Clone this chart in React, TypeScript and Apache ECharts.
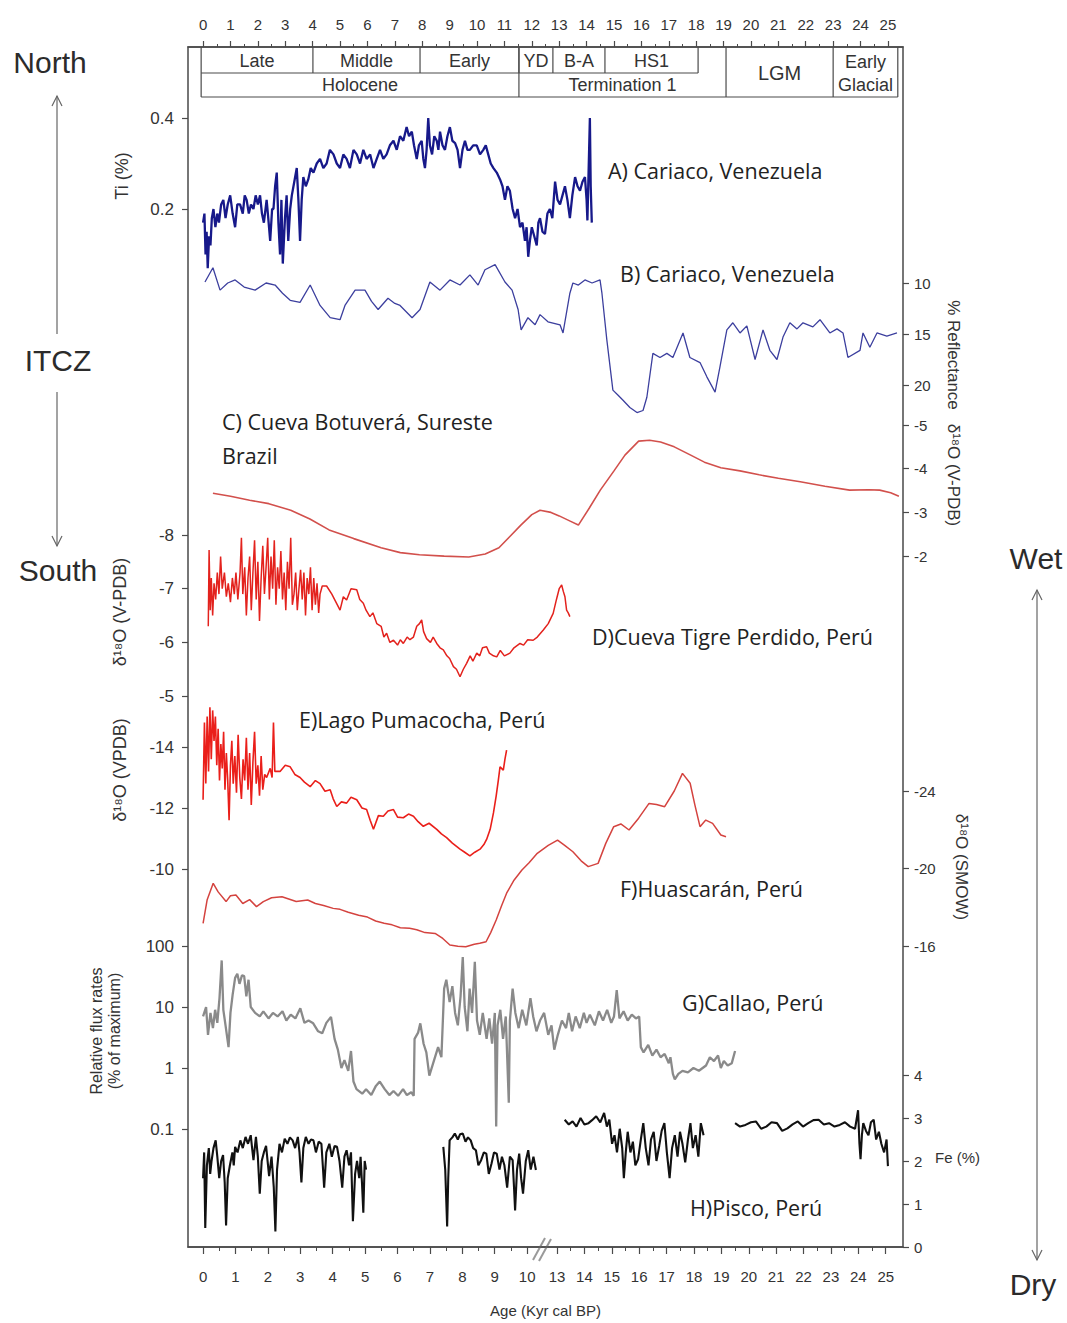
import React, { useEffect, useRef } from "react";
import * as echarts from "echarts";

type Pt = [number, number];

// ---------- axes / time scale ----------
const XMIN = -0.55;
const XMAX = 25.55;
const UPPER_TICKS = [0, 1, 2, 3, 4, 5, 6, 7, 8, 9, 10, 11, 12, 13, 14, 15, 16, 17, 18, 19, 20, 21, 22, 23, 24, 25];
const LOWER_TICKS = [0, 1, 2, 3, 4, 5, 6, 7, 8, 9, 10, 13, 14, 15, 16, 17, 18, 19, 20, 21, 22, 23, 24, 25];

// chronozones (kyr BP)
const ROW1_NAMES = ["Late", "Middle", "Early", "YD", "B-A", "HS1"];
const ROW1_EDGES = [-0.07, 4.01, 7.92, 11.53, 12.77, 14.67, 18.07];
const ROW2_NAMES = ["Holocene", "Termination 1"];
const ROW2_EDGES = [-0.07, 11.53, 19.09];
const GLACIAL_NAMES = ["LGM", "Early\nGlacial"];
const GLACIAL_EDGES = [19.09, 23.0, 25.36];

// ---------- records: [age kyr BP, value] ----------
// A) Cariaco Ti (%)
const cariacoTi: Pt[] = [
  [0.0, 0.17], [0.05, 0.19], [0.09, 0.1], [0.13, 0.15], [0.17, 0.07], [0.22, 0.14], [0.27, 0.12], [0.32, 0.18],
  [0.38, 0.2], [0.45, 0.16], [0.52, 0.19], [0.58, 0.17], [0.66, 0.21], [0.74, 0.22], [0.82, 0.18], [0.9, 0.21],
  [0.99, 0.23], [1.08, 0.19], [1.17, 0.16], [1.25, 0.21], [1.35, 0.21], [1.45, 0.19], [1.52, 0.23], [1.59, 0.22],
  [1.67, 0.19], [1.75, 0.21], [1.84, 0.2], [1.92, 0.23], [2.0, 0.21], [2.08, 0.23], [2.15, 0.19], [2.22, 0.17],
  [2.32, 0.22], [2.38, 0.18], [2.45, 0.13], [2.52, 0.2], [2.57, 0.2], [2.63, 0.25], [2.69, 0.28], [2.75, 0.17],
  [2.81, 0.1], [2.86, 0.22], [2.91, 0.08], [2.99, 0.18], [3.05, 0.23], [3.11, 0.13], [3.18, 0.2], [3.24, 0.23],
  [3.33, 0.26], [3.42, 0.29], [3.48, 0.22], [3.54, 0.13], [3.6, 0.22], [3.66, 0.27], [3.75, 0.25], [3.84, 0.265],
  [3.93, 0.29], [4.03, 0.28], [4.15, 0.3], [4.27, 0.31], [4.39, 0.29], [4.51, 0.3], [4.63, 0.33], [4.76, 0.32],
  [4.88, 0.3], [5.0, 0.29], [5.12, 0.32], [5.24, 0.31], [5.36, 0.29], [5.49, 0.33], [5.61, 0.32], [5.73, 0.3],
  [5.85, 0.33], [5.97, 0.31], [6.1, 0.32], [6.22, 0.29], [6.34, 0.31], [6.46, 0.33], [6.58, 0.31], [6.7, 0.32],
  [6.82, 0.34], [6.95, 0.35], [7.07, 0.33], [7.19, 0.36], [7.31, 0.35], [7.43, 0.38], [7.52, 0.36], [7.62, 0.37],
  [7.7, 0.34], [7.8, 0.31], [7.88, 0.34], [7.98, 0.35], [8.04, 0.31], [8.1, 0.29], [8.16, 0.33], [8.22, 0.4],
  [8.28, 0.34], [8.36, 0.32], [8.44, 0.36], [8.53, 0.35], [8.59, 0.33], [8.65, 0.37], [8.74, 0.34], [8.83, 0.33],
  [8.92, 0.36], [9.01, 0.38], [9.1, 0.35], [9.2, 0.345], [9.29, 0.33], [9.38, 0.29], [9.47, 0.33], [9.56, 0.35],
  [9.65, 0.33], [9.74, 0.33], [9.86, 0.34], [9.99, 0.34], [10.11, 0.32], [10.23, 0.33], [10.32, 0.34], [10.41, 0.32],
  [10.5, 0.3], [10.6, 0.29], [10.72, 0.28], [10.84, 0.265], [10.93, 0.25], [11.02, 0.22], [11.11, 0.25], [11.2, 0.24],
  [11.3, 0.2], [11.39, 0.18], [11.48, 0.2], [11.57, 0.16], [11.66, 0.17], [11.75, 0.13], [11.81, 0.16], [11.87, 0.095],
  [11.93, 0.13], [12.0, 0.16], [12.09, 0.14], [12.18, 0.12], [12.24, 0.17], [12.3, 0.18], [12.39, 0.15], [12.48, 0.145],
  [12.57, 0.19], [12.66, 0.2], [12.75, 0.18], [12.85, 0.26], [12.94, 0.22], [13.03, 0.21], [13.12, 0.23], [13.21, 0.25],
  [13.3, 0.22], [13.39, 0.18], [13.48, 0.23], [13.58, 0.27], [13.67, 0.25], [13.76, 0.24], [13.85, 0.26], [13.94, 0.27],
  [14.0, 0.22], [14.03, 0.175], [14.08, 0.3], [14.12, 0.4], [14.15, 0.25], [14.19, 0.17],
];

// B) Cariaco % reflectance
const cariacoReflectance: Pt[] = [
  [0.07, 9.9], [0.36, 8.5], [0.62, 10.7], [0.9, 10.0], [1.17, 9.7], [1.5, 10.4], [1.9, 10.7], [2.3, 10.0],
  [2.63, 10.2], [2.9, 11.0], [3.18, 11.7], [3.54, 11.9], [3.91, 10.2], [4.27, 12.2], [4.64, 13.4], [5.0, 13.6],
  [5.18, 12.2], [5.55, 10.7], [5.91, 10.7], [6.15, 11.8], [6.39, 12.6], [6.75, 11.5], [7.0, 12.0], [7.19, 12.2],
  [7.63, 13.4], [7.92, 12.6], [8.28, 9.9], [8.65, 10.7], [9.01, 9.7], [9.38, 10.2], [9.74, 9.2], [10.04, 10.2],
  [10.29, 8.7], [10.66, 8.2], [11.02, 9.9], [11.28, 10.7], [11.5, 12.6], [11.61, 14.6], [11.86, 13.4], [12.12, 14.1],
  [12.3, 13.1], [12.59, 13.8], [13.03, 14.1], [13.14, 14.9], [13.39, 11.0], [13.5, 10.0], [13.7, 10.2], [13.94, 9.7],
  [14.2, 10.0], [14.49, 9.7], [14.56, 11.0], [14.74, 15.6], [14.96, 20.5], [15.15, 21.0], [15.33, 21.5], [15.58, 22.2],
  [15.84, 22.7], [16.06, 22.5], [16.2, 21.2], [16.42, 16.9], [16.68, 17.3], [16.93, 16.9], [17.15, 17.3], [17.52, 14.9],
  [17.77, 17.3], [18.14, 17.8], [18.39, 19.2], [18.69, 20.7], [18.87, 18.2], [19.12, 14.6], [19.34, 13.9], [19.6, 14.9],
  [19.85, 14.2], [20.15, 17.5], [20.44, 14.6], [20.69, 16.6], [20.95, 17.5], [21.17, 15.3], [21.42, 13.9], [21.68, 14.5],
  [21.9, 13.9], [22.26, 14.3], [22.52, 13.6], [22.88, 14.9], [23.14, 14.5], [23.36, 14.9], [23.54, 17.3], [23.98, 16.6],
  [24.09, 14.9], [24.34, 16.3], [24.6, 14.9], [24.96, 15.2], [25.33, 14.9],
];

// C) Botuverá δ18O (V-PDB)
const botuveraD18O: Pt[] = [
  [0.36, -3.44], [1.0, -3.37], [1.7, -3.28], [2.4, -3.2], [3.2, -3.05], [3.9, -2.85], [4.6, -2.6], [5.5, -2.4],
  [6.5, -2.19], [7.2, -2.08], [7.9, -2.03], [8.8, -2.0], [9.7, -1.98], [10.3, -2.05], [10.8, -2.19], [11.2, -2.45],
  [11.6, -2.71], [12.0, -2.95], [12.3, -3.05], [12.7, -3.0], [13.0, -2.92], [13.4, -2.8], [13.7, -2.71], [14.1, -3.1],
  [14.5, -3.51], [15.0, -3.95], [15.4, -4.31], [15.9, -4.63], [16.3, -4.65], [16.7, -4.61], [17.2, -4.5], [17.8, -4.31],
  [18.3, -4.15], [18.9, -4.02], [19.6, -3.95], [20.3, -3.86], [21.0, -3.78], [21.8, -3.7], [22.7, -3.6], [23.6, -3.51],
  [24.3, -3.52], [24.7, -3.51], [25.1, -3.45], [25.4, -3.37],
];

// D) Tigre Perdido δ18O (V-PDB)
const tigrePerdidoD18O: Pt[] = [
  [0.19, -6.3], [0.22, -7.72], [0.26, -6.6], [0.3, -7.2], [0.35, -6.5], [0.4, -7.1], [0.46, -6.8], [0.52, -7.3],
  [0.58, -6.9], [0.64, -7.6], [0.7, -7.0], [0.78, -7.3], [0.85, -6.85], [0.92, -7.1], [1.0, -6.75], [1.07, -7.2],
  [1.14, -6.9], [1.2, -7.3], [1.27, -6.8], [1.35, -7.3], [1.4, -7.95], [1.45, -6.9], [1.52, -7.4], [1.58, -6.5],
  [1.64, -7.2], [1.7, -7.6], [1.76, -6.6], [1.82, -7.3], [1.88, -7.9], [1.94, -6.8], [2.0, -7.5], [2.06, -6.4],
  [2.12, -7.2], [2.18, -7.8], [2.24, -6.9], [2.3, -7.4], [2.36, -7.95], [2.42, -6.8], [2.48, -7.6], [2.54, -7.0],
  [2.6, -7.9], [2.66, -6.7], [2.72, -7.4], [2.78, -7.0], [2.84, -7.7], [2.9, -6.8], [2.96, -7.3], [3.02, -6.6],
  [3.08, -7.5], [3.14, -7.0], [3.2, -7.95], [3.26, -6.7], [3.32, -6.9], [3.38, -7.3], [3.44, -6.6], [3.5, -7.0],
  [3.56, -7.35], [3.62, -6.8], [3.68, -7.3], [3.74, -6.5], [3.8, -7.2], [3.86, -6.9], [3.92, -7.4], [3.98, -6.6],
  [4.04, -7.2], [4.1, -6.7], [4.16, -7.1], [4.22, -6.55], [4.27, -6.9], [4.35, -7.05], [4.51, -7.05], [4.7, -6.9],
  [5.0, -6.6], [5.12, -6.85], [5.24, -6.79], [5.4, -7.0], [5.61, -6.98], [5.72, -6.8], [5.85, -6.73], [5.95, -6.6],
  [6.09, -6.48], [6.2, -6.55], [6.34, -6.35], [6.5, -6.3], [6.6, -6.1], [6.7, -6.17], [6.82, -6.0], [6.95, -6.04],
  [7.1, -5.95], [7.2, -6.05], [7.31, -5.98], [7.45, -6.1], [7.55, -6.05], [7.68, -6.1], [7.8, -6.3], [7.9, -6.35],
  [7.98, -6.42], [8.05, -6.2], [8.16, -6.07], [8.3, -6.0], [8.4, -6.1], [8.53, -5.98], [8.65, -5.9], [8.77, -5.86],
  [8.9, -5.75], [9.0, -5.7], [9.14, -5.55], [9.25, -5.5], [9.38, -5.36], [9.5, -5.5], [9.62, -5.61], [9.75, -5.75],
  [9.85, -5.65], [9.99, -5.8], [10.1, -5.75], [10.2, -5.9], [10.35, -5.92], [10.45, -5.8], [10.6, -5.75], [10.72, -5.73],
  [10.85, -5.85], [11.0, -5.75], [11.2, -5.8], [11.35, -5.9], [11.57, -5.98], [11.7, -5.95], [11.85, -6.05], [12.05, -6.04],
  [12.2, -6.1], [12.42, -6.23], [12.6, -6.35], [12.78, -6.54], [12.9, -6.8], [13.0, -7.0], [13.09, -7.07], [13.15, -6.95],
  [13.21, -6.85], [13.27, -6.6], [13.33, -6.55], [13.39, -6.48],
];

// E) Pumacocha δ18O (VPDB)
const pumacochaD18O: Pt[] = [
  [0.0, -12.27], [0.05, -14.8], [0.1, -12.8], [0.15, -15.0], [0.2, -13.2], [0.25, -15.3], [0.3, -13.6], [0.35, -15.2],
  [0.4, -14.2], [0.45, -15.0], [0.5, -13.4], [0.55, -14.6], [0.6, -12.9], [0.65, -14.1], [0.7, -13.3], [0.75, -14.5],
  [0.8, -12.6], [0.85, -13.8], [0.9, -12.9], [0.95, -11.6], [1.0, -13.4], [1.05, -14.2], [1.1, -12.8], [1.16, -13.7],
  [1.22, -12.5], [1.28, -14.4], [1.34, -13.0], [1.4, -12.3], [1.46, -13.6], [1.52, -12.9], [1.58, -14.3], [1.64, -12.6],
  [1.7, -13.8], [1.76, -12.1], [1.82, -13.5], [1.88, -14.5], [1.94, -12.8], [2.0, -13.4], [2.06, -12.4], [2.12, -13.7],
  [2.18, -12.6], [2.25, -13.1], [2.32, -13.0], [2.45, -13.3], [2.52, -13.0], [2.57, -14.8], [2.62, -13.2], [2.81, -13.2],
  [3.0, -13.4], [3.18, -13.35], [3.35, -13.1], [3.54, -13.0], [3.7, -12.85], [3.91, -12.7], [4.1, -12.9], [4.27, -12.8],
  [4.45, -12.55], [4.64, -12.6], [4.75, -12.3], [4.88, -12.05], [5.05, -12.2], [5.24, -12.16], [5.4, -12.35], [5.61, -12.27],
  [5.8, -12.0], [5.97, -11.95], [6.1, -11.6], [6.22, -11.3], [6.4, -11.75], [6.58, -11.73], [6.75, -11.9], [6.95, -11.95],
  [7.1, -11.7], [7.31, -11.68], [7.5, -11.8], [7.68, -11.73], [7.85, -11.55], [8.04, -11.4], [8.25, -11.5], [8.53, -11.3],
  [8.7, -11.15], [8.89, -11.03], [9.1, -10.85], [9.38, -10.65], [9.55, -10.55], [9.74, -10.43], [9.92, -10.55], [10.11, -10.65],
  [10.25, -10.8], [10.35, -10.97], [10.48, -11.3], [10.6, -11.84], [10.7, -12.4], [10.78, -12.92], [10.84, -13.35], [10.96, -13.24],
  [11.02, -13.6], [11.08, -13.9],
];

// F) Huascarán δ18O (SMOW)
const huascaranD18O: Pt[] = [
  [0.0, -17.18], [0.15, -18.4], [0.37, -19.24], [0.55, -18.8], [0.84, -18.3], [1.0, -18.6], [1.2, -18.64], [1.45, -18.2],
  [1.7, -18.4], [1.95, -18.04], [2.2, -18.3], [2.5, -18.5], [2.88, -18.55], [3.1, -18.45], [3.4, -18.3], [3.82, -18.38],
  [4.1, -18.2], [4.4, -18.1], [4.75, -17.95], [5.0, -17.9], [5.3, -17.75], [5.68, -17.6], [6.0, -17.5], [6.3, -17.3],
  [6.61, -17.18], [6.9, -17.1], [7.2, -16.95], [7.54, -16.92], [7.8, -16.85], [8.1, -16.7], [8.47, -16.66], [8.75, -16.4],
  [9.01, -16.06], [9.3, -16.0], [9.59, -15.97], [9.9, -16.1], [10.1, -16.15], [10.33, -16.23], [10.5, -16.7], [10.7, -17.35],
  [10.9, -18.1], [11.08, -18.73], [11.35, -19.4], [11.64, -19.93], [11.9, -20.3], [12.2, -20.79], [12.6, -21.2], [12.94, -21.47],
  [13.2, -21.2], [13.5, -20.87], [13.8, -20.4], [14.06, -20.1], [14.42, -20.27], [14.7, -21.3], [14.99, -22.16], [15.25, -22.3],
  [15.55, -21.99], [15.9, -22.6], [16.28, -23.36], [16.55, -23.3], [16.85, -23.19], [17.2, -24.0], [17.5, -24.91], [17.78, -24.4],
  [17.95, -23.3], [18.14, -22.16], [18.35, -22.5], [18.6, -22.33], [18.9, -21.73], [19.09, -21.64],
];

// G) Callao relative flux rates (% of maximum)
const callaoFlux: Pt[] = [
  [0.0, 7.0], [0.11, 10.0], [0.18, 3.5], [0.27, 8.0], [0.36, 4.5], [0.44, 9.0], [0.52, 5.5], [0.6, 14.0],
  [0.68, 58], [0.74, 9.0], [0.82, 5.0], [0.93, 2.2], [1.0, 8.0], [1.08, 16.0], [1.17, 30], [1.25, 35],
  [1.33, 24], [1.42, 33], [1.5, 32], [1.58, 15], [1.66, 28], [1.74, 10.0], [1.9, 8.0], [2.07, 7.0],
  [2.2, 8.5], [2.39, 6.5], [2.55, 8.0], [2.72, 7.0], [2.9, 8.5], [3.04, 6.0], [3.2, 7.5], [3.37, 6.5],
  [3.55, 9.5], [3.7, 5.5], [3.85, 6.0], [4.02, 5.4], [4.2, 4.0], [4.35, 3.7], [4.5, 5.5], [4.67, 6.9],
  [4.8, 3.0], [4.92, 2.0], [5.05, 1.0], [5.16, 1.35], [5.3, 0.9], [5.4, 1.9], [5.49, 0.6], [5.6, 0.45],
  [5.81, 0.38], [5.95, 0.45], [6.14, 0.36], [6.3, 0.5], [6.45, 0.6], [6.63, 0.45], [6.8, 0.36], [6.95, 0.42],
  [7.12, 0.35], [7.3, 0.45], [7.44, 0.36], [7.6, 0.4], [7.69, 0.35], [7.72, 3.0], [7.85, 3.8], [7.93, 5.4],
  [8.05, 2.5], [8.15, 1.8], [8.26, 0.75], [8.4, 1.2], [8.58, 2.2], [8.7, 1.5], [8.8, 20], [8.88, 28],
  [9.0, 12], [9.1, 22], [9.2, 8], [9.3, 5], [9.4, 15], [9.48, 66], [9.55, 10], [9.65, 4],
  [9.73, 20], [9.82, 8], [9.92, 55], [10.0, 6], [10.1, 3.5], [10.21, 8], [10.35, 3.0], [10.45, 6.5],
  [10.55, 2.5], [10.65, 8], [10.7, 0.11], [10.75, 5.0], [10.85, 9], [10.95, 3.0], [11.05, 7], [11.16, 0.27],
  [11.2, 6], [11.3, 20], [11.4, 8], [11.52, 4.5], [11.65, 9], [11.8, 5], [11.95, 14], [12.05, 7],
  [12.17, 4], [12.3, 6], [12.45, 8], [12.6, 3.5], [12.72, 5], [12.82, 2.0], [12.95, 3.5], [13.1, 6],
  [13.25, 4.5], [13.35, 8], [13.47, 4], [13.6, 7], [13.75, 4.5], [13.9, 8], [14.0, 5.5], [14.12, 7.5],
  [14.3, 5], [14.45, 8.5], [14.6, 6], [14.75, 9], [14.9, 5.5], [15.0, 7], [15.1, 19], [15.2, 6.5],
  [15.35, 8.5], [15.5, 6], [15.65, 7.5], [15.8, 6.5], [15.92, 7], [15.98, 2.2], [16.08, 1.8], [16.25, 2.4],
  [16.4, 1.6], [16.55, 2.0], [16.7, 1.5], [16.85, 1.7], [17.0, 1.2], [17.06, 1.5], [17.15, 0.8], [17.22, 0.65],
  [17.35, 0.8], [17.5, 0.9], [17.7, 0.85], [17.9, 1.0], [18.1, 0.9], [18.36, 1.1], [18.5, 1.5], [18.65, 1.3],
  [18.8, 1.6], [18.9, 1.0], [19.01, 1.3], [19.15, 1.1], [19.3, 1.2], [19.42, 1.9],
];

// H) Pisco Fe (%), four core sections
const piscoFe1: Pt[] = [
  [0.0, 1.6], [0.04, 2.2], [0.08, 0.44], [0.14, 1.9], [0.21, 2.3], [0.26, 1.7], [0.31, 2.0], [0.38, 2.3],
  [0.46, 2.48], [0.52, 2.1], [0.59, 1.6], [0.66, 2.0], [0.73, 2.14], [0.79, 1.5], [0.84, 0.5], [0.9, 1.6],
  [0.98, 1.9], [1.07, 2.2], [1.12, 1.9], [1.17, 2.33], [1.26, 2.2], [1.36, 2.48], [1.45, 2.3], [1.55, 2.56],
  [1.64, 2.4], [1.74, 2.6], [1.79, 2.3], [1.84, 2.02], [1.93, 2.56], [2.0, 2.1], [2.07, 1.24], [2.14, 2.0],
  [2.22, 2.2], [2.3, 2.35], [2.41, 1.65], [2.5, 2.1], [2.58, 1.4], [2.64, 0.36], [2.7, 1.8], [2.79, 2.4],
  [2.88, 2.2], [2.98, 2.52], [3.08, 2.4], [3.17, 2.55], [3.27, 2.48], [3.36, 2.3], [3.46, 2.56], [3.52, 2.2],
  [3.59, 1.5], [3.66, 2.3], [3.75, 2.56], [3.85, 2.4], [3.94, 2.5], [4.03, 2.48], [4.12, 2.2], [4.22, 2.45],
  [4.32, 2.4], [4.37, 1.9], [4.42, 1.38], [4.5, 2.2], [4.61, 2.4], [4.7, 2.1], [4.8, 2.35], [4.89, 2.33],
  [4.98, 2.0], [5.08, 1.38], [5.16, 2.1], [5.24, 2.25], [5.33, 1.9], [5.4, 2.2], [5.47, 0.6], [5.55, 1.7],
  [5.62, 2.0], [5.7, 1.6], [5.75, 2.1], [5.8, 1.5], [5.85, 0.8], [5.9, 2.0], [5.95, 1.8],
];
const piscoFe2: Pt[] = [
  [8.77, 2.33], [8.84, 1.8], [8.91, 0.48], [8.95, 1.6], [9.0, 2.48], [9.1, 2.55], [9.19, 2.64], [9.3, 2.5],
  [9.38, 2.62], [9.48, 2.64], [9.58, 2.45], [9.67, 2.55], [9.77, 2.48], [9.86, 2.3], [9.96, 2.25], [10.05, 1.9],
  [10.15, 2.02], [10.25, 2.2], [10.34, 2.17], [10.43, 1.7], [10.53, 1.94], [10.62, 2.2], [10.72, 2.17], [10.82, 1.8],
  [10.91, 2.1], [11.0, 1.9], [11.1, 1.38], [11.2, 2.1], [11.3, 2.02], [11.35, 1.4], [11.39, 0.85], [11.46, 1.8],
  [11.54, 2.17], [11.61, 1.6], [11.68, 1.24], [11.78, 2.0], [11.87, 2.25], [11.96, 1.8], [12.06, 2.1], [12.15, 1.79],
];
const piscoFe3: Pt[] = [
  [13.2, 2.96], [13.35, 2.85], [13.49, 2.92], [13.63, 2.8], [13.78, 3.0], [13.92, 2.85], [14.07, 2.88], [14.2, 2.95],
  [14.35, 3.04], [14.5, 2.9], [14.64, 3.12], [14.74, 2.8], [14.83, 2.96], [14.93, 2.4], [15.02, 2.6], [15.11, 2.2],
  [15.21, 2.75], [15.3, 2.3], [15.36, 1.6], [15.43, 2.2], [15.5, 2.68], [15.6, 2.2], [15.69, 2.45], [15.78, 1.9],
  [15.88, 2.04], [15.98, 2.5], [16.07, 2.88], [16.16, 2.3], [16.26, 1.9], [16.35, 2.5], [16.45, 2.68], [16.55, 2.0],
  [16.65, 2.35], [16.74, 2.7], [16.84, 2.88], [16.93, 2.2], [17.03, 1.6], [17.12, 2.3], [17.22, 2.6], [17.32, 2.1],
  [17.41, 2.68], [17.5, 2.4], [17.6, 1.97], [17.7, 2.5], [17.79, 2.88], [17.88, 2.3], [17.98, 2.6], [18.08, 2.1],
  [18.17, 2.88], [18.27, 2.6],
];
const piscoFe4: Pt[] = [
  [19.42, 2.88], [19.6, 2.8], [19.8, 2.84], [20.0, 2.9], [20.18, 2.92], [20.37, 2.75], [20.56, 2.8], [20.75, 2.9],
  [20.95, 2.88], [21.14, 2.7], [21.33, 2.76], [21.52, 2.85], [21.71, 2.92], [21.9, 2.8], [22.09, 2.88], [22.28, 2.95],
  [22.47, 2.96], [22.66, 2.85], [22.85, 2.88], [23.05, 2.8], [23.24, 2.84], [23.43, 2.9], [23.62, 2.8], [23.8, 2.75],
  [23.91, 3.18], [23.96, 2.4], [24.0, 2.04], [24.05, 2.6], [24.1, 2.88], [24.2, 2.7], [24.29, 2.6], [24.38, 2.9],
  [24.48, 2.96], [24.57, 2.5], [24.67, 2.68], [24.76, 2.4], [24.86, 2.2], [24.95, 2.5], [25.0, 1.88],
];

// y-axis ticks per record
const TI_TICKS = [0.2, 0.4];
const REFLECTANCE_TICKS = [10, 15, 20];
const BOTUVERA_TICKS = [-5, -4, -3, -2];
const TIGRE_TICKS = [-8, -7, -6, -5];
const PUMACOCHA_TICKS = [-14, -12, -10];
const HUASCARAN_TICKS = [-24, -20, -16];
const FE_TICKS = [0, 1, 2, 3, 4];

// ---------- styling ----------
const AXIS_COLOR = "#4a4a4a";
const SANS = '"Liberation Sans", Arial, Helvetica, sans-serif';
const LABEL_FONT = '"Open Sans", "Noto Sans", sans-serif';

// lower age scale is broken between 10 and 13 kyr; its 0–10 part is stretched
const lowerPos = (age: number) => (age <= 10 ? age * 1.183 : age - 0.08);

const halfSteps = (ticks: number[]) => {
  const out: number[] = [];
  for (let i = 0; i < ticks.length - 1; i++) {
    if (ticks[i + 1] - ticks[i] === 1) out.push(ticks[i] + 0.5);
  }
  return out;
};

function panelX(gridIndex: number) {
  return { type: "value", gridIndex, min: XMIN, max: XMAX, show: false };
}

function panelY(gridIndex: number, position: string, min: number, max: number, ticks: number[], inverse: boolean) {
  const isLeft = position === "left";
  return {
    type: "value",
    gridIndex,
    position,
    min,
    max,
    inverse,
    axisLine: { show: false, onZero: false },
    splitLine: { show: false },
    axisTick: { show: true, inside: false, customValues: ticks, length: 6, lineStyle: { color: AXIS_COLOR, width: 1.2 } },
    axisLabel: {
      show: true,
      inside: false,
      customValues: ticks,
      color: "#333",
      fontSize: isLeft ? 17 : 15,
      fontFamily: SANS,
      margin: isLeft ? 14 : 11,
    },
  };
}

function lineSeries(name: string, data: Pt[], axis: number, color: string, width: number) {
  return {
    name,
    type: "line",
    xAxisIndex: axis + 4,
    yAxisIndex: axis + 1,
    data,
    showSymbol: false,
    symbol: "none",
    lineStyle: { color, width },
    silent: true,
  };
}

function buildOption(): any {
  const upperMinor = halfSteps(UPPER_TICKS);
  const lowerMajor = LOWER_TICKS.map(lowerPos);
  const lowerMinor = halfSteps(LOWER_TICKS).map(lowerPos);
  const frameAxis = { type: "value", gridIndex: 0, min: XMIN, max: XMAX, splitLine: { show: false } };
  const lowerLabel = (v: number) => {
    const hit = LOWER_TICKS.find((a) => Math.abs(lowerPos(a) - v) < 1e-6);
    return hit === undefined ? "" : String(hit);
  };

  return {
    animation: false,
    backgroundColor: "#ffffff",
    grid: [
      { left: 188, right: 164, top: 47, bottom: 76, show: true, borderColor: AXIS_COLOR, borderWidth: 1.5, backgroundColor: "transparent" },
      { left: 188, right: 164, top: 95.25, height: 182 }, // A
      { left: 188, right: 164, top: 252.4, height: 183.6 }, // B
      { left: 188, right: 164, top: 403.15, height: 174.8 }, // C
      { left: 188, right: 164, top: 508.15, height: 198.7 }, // D
      { left: 188, right: 164, top: 701.25, height: 183 }, // E
      { left: 188, right: 164, top: 761.9, height: 194 }, // F
      { left: 188, right: 164, top: 946, height: 183 }, // G
      { left: 188, right: 164, top: 1053.5, height: 193.5 }, // H
    ],
    xAxis: [
      {
        ...frameAxis,
        position: "top",
        axisLine: { show: true, onZero: false, lineStyle: { color: AXIS_COLOR, width: 1.5 } },
        axisTick: { show: true, customValues: UPPER_TICKS, length: 6, lineStyle: { color: AXIS_COLOR, width: 1.2 } },
        axisLabel: { show: true, customValues: UPPER_TICKS, color: "#333", fontSize: 15, fontFamily: SANS, margin: 15 },
      },
      {
        ...frameAxis,
        position: "top",
        axisLine: { show: false, onZero: false },
        axisTick: { show: true, customValues: upperMinor, length: 3, lineStyle: { color: AXIS_COLOR, width: 1 } },
        axisLabel: { show: false },
      },
      {
        ...frameAxis,
        position: "bottom",
        axisLine: { show: true, onZero: false, lineStyle: { color: AXIS_COLOR, width: 1.5 } },
        axisTick: { show: true, customValues: lowerMajor, length: 7, lineStyle: { color: AXIS_COLOR, width: 1.2 } },
        axisLabel: {
          show: true,
          customValues: lowerMajor,
          color: "#333",
          fontSize: 15,
          fontFamily: SANS,
          margin: 22,
          formatter: lowerLabel,
        },
        name: "Age (Kyr cal BP)",
        nameLocation: "middle",
        nameGap: 56,
        nameTextStyle: { color: "#333", fontSize: 15, fontFamily: SANS },
      },
      {
        ...frameAxis,
        position: "bottom",
        axisLine: { show: false, onZero: false },
        axisTick: { show: true, customValues: lowerMinor, length: 4, lineStyle: { color: AXIS_COLOR, width: 1 } },
        axisLabel: { show: false },
      },
      panelX(1), panelX(2), panelX(3), panelX(4), panelX(5), panelX(6), panelX(7), panelX(8),
    ],
    yAxis: [
      { type: "value", gridIndex: 0, show: false, min: 0, max: 1 },
      panelY(1, "left", 0.05, 0.45, TI_TICKS, false),
      panelY(2, "right", 7, 25, REFLECTANCE_TICKS, true),
      panelY(3, "right", -5.5, -1.5, BOTUVERA_TICKS, true),
      panelY(4, "left", -8.5, -4.8, TIGRE_TICKS, true),
      panelY(5, "left", -15.5, -9.5, PUMACOCHA_TICKS, true),
      panelY(6, "right", -25.5, -15.5, HUASCARAN_TICKS, true),
      {
        type: "log",
        logBase: 10,
        gridIndex: 7,
        position: "left",
        min: 0.1,
        max: 100,
        axisLine: { show: false, onZero: false },
        splitLine: { show: false },
        minorTick: { show: false },
        axisTick: { show: true, inside: false, length: 6, lineStyle: { color: AXIS_COLOR, width: 1.2 } },
        axisLabel: { show: true, color: "#333", fontSize: 17, fontFamily: SANS, margin: 14 },
      },
      panelY(8, "right", 0, 4.5, FE_TICKS, false),
    ],
    series: [
      lineSeries("A) Cariaco Ti", cariacoTi, 0, "#17198a", 2.3),
      lineSeries("B) Cariaco reflectance", cariacoReflectance, 1, "#3c3f9e", 1.3),
      lineSeries("C) Botuverá", botuveraD18O, 2, "#d2504c", 1.6),
      lineSeries("D) Tigre Perdido", tigrePerdidoD18O, 3, "#e3221d", 1.5),
      lineSeries("E) Pumacocha", pumacochaD18O, 4, "#ea1f1a", 1.6),
      lineSeries("F) Huascarán", huascaranD18O, 5, "#d4433f", 1.5),
      lineSeries("G) Callao", callaoFlux, 6, "#8a8a8a", 2.3),
      lineSeries("H) Pisco 1", piscoFe1, 7, "#111111", 2.1),
      lineSeries("H) Pisco 2", piscoFe2, 7, "#111111", 2.1),
      lineSeries("H) Pisco 3", piscoFe3, 7, "#111111", 2.1),
      lineSeries("H) Pisco 4", piscoFe4, 7, "#111111", 2.1),
    ],
  };
}

function buildGraphic(chart: any): any[] {
  const px = (age: number) => chart.convertToPixel({ xAxisIndex: 0 }, age) as number;
  const els: any[] = [];
  const Y0 = 47;
  const Y1 = 73;
  const Y2 = 97;

  const seg = (x1: number, y1: number, x2: number, y2: number, stroke = AXIS_COLOR, lineWidth = 1.2) => ({
    type: "line",
    silent: true,
    shape: { x1, y1, x2, y2 },
    style: { stroke, lineWidth },
  });
  const txt = (x: number, y: number, text: string, font: string, opts: any = {}) => ({
    type: "text",
    silent: true,
    x,
    y,
    rotation: opts.rotation || 0,
    style: {
      text,
      x: 0,
      y: 0,
      font,
      fill: opts.fill || "#333",
      textAlign: opts.align || "center",
      textVerticalAlign: "middle",
      lineHeight: opts.lineHeight,
    },
  });

  // chronozone header
  const left = px(ROW2_EDGES[0]);
  const right = px(GLACIAL_EDGES[GLACIAL_EDGES.length - 1]);
  els.push(seg(left, Y2, right, Y2));
  els.push(seg(left, Y1, px(ROW1_EDGES[ROW1_EDGES.length - 1]), Y1));
  [ROW2_EDGES[0], ROW2_EDGES[1], ROW2_EDGES[2], GLACIAL_EDGES[1], GLACIAL_EDGES[2]].forEach((a) =>
    els.push(seg(px(a), Y0, px(a), Y2))
  );
  ROW1_EDGES.slice(1).forEach((a) => els.push(seg(px(a), Y0, px(a), Y1)));
  const hdrFont = `18px ${SANS}`;
  ROW1_NAMES.forEach((n, i) => els.push(txt((px(ROW1_EDGES[i]) + px(ROW1_EDGES[i + 1])) / 2, 61, n, hdrFont)));
  ROW2_NAMES.forEach((n, i) => els.push(txt((px(ROW2_EDGES[i]) + px(ROW2_EDGES[i + 1])) / 2, 85, n, hdrFont)));
  GLACIAL_NAMES.forEach((n, i) =>
    els.push(
      txt((px(GLACIAL_EDGES[i]) + px(GLACIAL_EDGES[i + 1])) / 2, 73, n, i === 0 ? `20px ${SANS}` : hdrFont, {
        lineHeight: 23,
      })
    )
  );

  // record names
  const recFont = `21.5px ${LABEL_FONT}`;
  const recs: [number, number, string][] = [
    [608, 170, "A) Cariaco, Venezuela"],
    [620, 273, "B) Cariaco, Venezuela"],
    [222, 421, "C) Cueva Botuverá, Sureste"],
    [222, 455, "Brazil"],
    [592, 636, "D)Cueva Tigre Perdido, Perú"],
    [299, 719, "E)Lago Pumacocha, Perú"],
    [620, 888, "F)Huascarán, Perú"],
    [682, 1002, "G)Callao, Perú"],
    [690, 1207, "H)Pisco, Perú"],
  ];
  recs.forEach(([x, y, t]) => els.push(txt(x, y, t, recFont, { align: "left", fill: "#222" })));

  // axis names
  const leftName = `18px ${SANS}`;
  const rightName = `17px ${SANS}`;
  const up = Math.PI / 2;
  const down = -Math.PI / 2;
  els.push(txt(122, 176, "Ti (%)", leftName, { rotation: up }));
  els.push(txt(120, 612, "δ¹⁸O (V-PDB)", leftName, { rotation: up }));
  els.push(txt(120, 770, "δ¹⁸O (VPDB)", leftName, { rotation: up }));
  els.push(txt(96, 1031, "Relative flux rates", `16px ${SANS}`, { rotation: up }));
  els.push(txt(114, 1031, "(% of maximum)", `16px ${SANS}`, { rotation: up }));
  els.push(txt(953, 355, "% Reflectance", rightName, { rotation: down }));
  els.push(txt(953, 475, "δ¹⁸O (V-PDB)", rightName, { rotation: down }));
  els.push(txt(961, 867, "δ¹⁸O (SMOW)", rightName, { rotation: down }));
  els.push(txt(935, 1157, "Fe (%)", `15px ${SANS}`, { align: "left" }));

  // ITCZ position and humidity guides
  const bigFont = `30px ${SANS}`;
  els.push(txt(50, 62, "North", bigFont, { fill: "#2b2b2b" }));
  els.push(txt(58, 360, "ITCZ", bigFont, { fill: "#2b2b2b" }));
  els.push(txt(58, 570, "South", bigFont, { fill: "#2b2b2b" }));
  els.push(txt(1036, 558, "Wet", bigFont, { fill: "#2b2b2b" }));
  els.push(txt(1033, 1284, "Dry", bigFont, { fill: "#2b2b2b" }));
  const guide = "#666";
  els.push(seg(57, 96, 57, 334, guide, 1.2));
  els.push({ type: "polyline", silent: true, shape: { points: [[52, 106], [57, 96], [62, 106]] }, style: { stroke: guide, lineWidth: 1.2, fill: null } });
  els.push(seg(57, 392, 57, 546, guide, 1.2));
  els.push({ type: "polyline", silent: true, shape: { points: [[52, 536], [57, 546], [62, 536]] }, style: { stroke: guide, lineWidth: 1.2, fill: null } });
  els.push(seg(1037, 590, 1037, 1260, guide, 1.2));
  els.push({ type: "polyline", silent: true, shape: { points: [[1032, 600], [1037, 590], [1042, 600]] }, style: { stroke: guide, lineWidth: 1.2, fill: null } });
  els.push({ type: "polyline", silent: true, shape: { points: [[1032, 1250], [1037, 1260], [1042, 1250]] }, style: { stroke: guide, lineWidth: 1.2, fill: null } });

  // break marks on the lower age axis
  els.push(seg(533, 1260, 545, 1238, "#9a9a9a", 2));
  els.push(seg(539, 1261, 551, 1239, "#9a9a9a", 2));

  return els;
}

export default function App() {
  const ref = useRef<HTMLDivElement>(null);
  useEffect(() => {
    const el = ref.current;
    if (!el) return;
    const chart = echarts.init(el, null, { renderer: "svg" });
    chart.setOption(buildOption());
    chart.setOption({ graphic: buildGraphic(chart) });
    return () => chart.dispose();
  }, []);
  return (
    <div
      ref={ref}
      style={{ position: "absolute", left: 0, top: 0, width: 1067, height: 1323, background: "#fff" }}
    />
  );
}
